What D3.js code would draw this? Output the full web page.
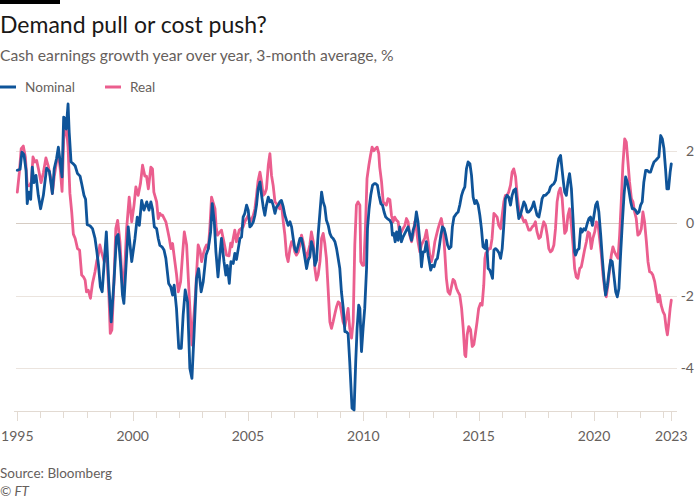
<!DOCTYPE html>
<html><head><meta charset="utf-8">
<script src="https://cdn.jsdelivr.net/npm/d3@7"></script>
<style>
html,body{margin:0;padding:0;background:#fff;}
svg{display:block;font-family:Lato,"Noto Sans",sans-serif;}
</style></head>
<body>
<svg id="chart" width="700" height="500"></svg>
<script>
const title = "Demand pull or cost push?";
const subtitle = "Cash earnings growth year over year, 3-month average, %";
const seriesNames = ["Nominal", "Real"];
const seriesColors = ["#0f5499", "#eb5e8e"];
const yTicks = [2, 0, -2, -4];
const xLabelYears = [1995, 2000, 2005, 2010, 2015, 2020];
const endLabel = "2023";
const source = "Source: Bloomberg";

const nominal = [[1995.00,1.46],[1995.12,1.49],[1995.20,1.96],[1995.29,1.89],[1995.38,1.46],[1995.43,0.54],[1995.50,0.86],[1995.58,0.66],[1995.65,1.55],[1995.72,1.12],[1995.81,1.32],[1995.91,0.77],[1996.01,0.40],[1996.13,0.77],[1996.27,1.52],[1996.39,1.43],[1996.52,0.82],[1996.60,1.50],[1996.70,1.78],[1996.78,2.10],[1996.85,1.73],[1996.94,1.28],[1997.01,2.93],[1997.08,2.88],[1997.12,2.60],[1997.20,3.29],[1997.25,2.51],[1997.33,1.69],[1997.43,1.64],[1997.51,1.58],[1997.61,1.37],[1997.72,1.30],[1997.80,1.06],[1997.89,0.77],[1997.96,0.66],[1998.03,-0.04],[1998.15,-0.07],[1998.26,-0.15],[1998.37,-0.42],[1998.45,-0.79],[1998.52,-1.16],[1998.60,-1.75],[1998.68,-1.89],[1998.77,-1.06],[1998.86,-0.24],[1998.96,-1.61],[1999.07,-2.72],[1999.19,-1.61],[1999.30,-0.38],[1999.37,-0.31],[1999.47,-1.06],[1999.56,-1.98],[1999.62,-2.21],[1999.81,-0.10],[1999.96,-1.06],[2000.10,-0.42],[2000.20,0.17],[2000.29,-0.06],[2000.39,0.63],[2000.49,0.36],[2000.61,0.59],[2000.71,0.36],[2000.79,0.59],[2000.86,0.40],[2000.94,-0.10],[2001.04,-0.15],[2001.11,-0.42],[2001.18,-0.61],[2001.27,-0.65],[2001.36,-0.74],[2001.44,-0.97],[2001.56,-1.66],[2001.65,-1.75],[2001.73,-1.98],[2001.80,-1.71],[2001.90,-2.35],[2002.00,-3.45],[2002.11,-3.45],[2002.19,-2.53],[2002.28,-1.84],[2002.38,-2.17],[2002.48,-4.00],[2002.57,-4.28],[2002.66,-3.08],[2002.77,-1.52],[2002.86,-1.25],[2002.97,-1.89],[2003.06,-1.61],[2003.18,-0.88],[2003.28,-0.70],[2003.38,-0.24],[2003.45,0.54],[2003.54,0.04],[2003.61,-0.79],[2003.70,-1.48],[2003.78,-0.88],[2003.85,-0.42],[2003.96,-1.06],[2004.04,-1.43],[2004.10,-1.16],[2004.19,-1.66],[2004.26,-1.06],[2004.36,-1.11],[2004.43,-0.83],[2004.50,-1.00],[2004.58,-0.70],[2004.65,-0.42],[2004.72,-0.38],[2004.79,0.17],[2004.86,0.27],[2004.94,0.50],[2005.01,0.36],[2005.08,-0.10],[2005.15,-0.06],[2005.23,0.04],[2005.30,0.22],[2005.37,0.50],[2005.44,0.95],[2005.52,1.14],[2005.59,0.77],[2005.66,0.45],[2005.73,0.22],[2005.80,0.50],[2005.88,0.72],[2005.95,0.59],[2006.02,0.63],[2006.09,0.50],[2006.17,0.27],[2006.24,0.45],[2006.31,0.50],[2006.38,0.59],[2006.45,0.63],[2006.53,0.45],[2006.60,0.22],[2006.67,0.08],[2006.74,-0.06],[2006.82,0.04],[2006.89,-0.10],[2006.96,-0.42],[2007.03,-0.70],[2007.10,-0.79],[2007.18,-0.60],[2007.25,-0.42],[2007.32,-0.42],[2007.39,-0.65],[2007.47,-0.97],[2007.54,-1.25],[2007.61,-1.02],[2007.68,-0.93],[2007.75,-0.51],[2007.83,-0.70],[2007.90,-1.16],[2007.97,-1.02],[2008.04,-0.33],[2008.12,0.31],[2008.19,0.86],[2008.26,0.59],[2008.33,0.45],[2008.40,0.08],[2008.48,-0.06],[2008.55,-0.28],[2008.62,-0.38],[2008.69,-0.42],[2008.77,-0.51],[2008.84,-0.70],[2008.91,-0.97],[2008.98,-1.25],[2009.05,-1.89],[2009.13,-2.35],[2009.20,-2.99],[2009.27,-3.00],[2009.34,-3.05],[2009.41,-3.82],[2009.51,-5.10],[2009.60,-5.15],[2009.67,-3.82],[2009.73,-2.90],[2009.80,-2.26],[2009.85,-2.35],[2009.92,-3.54],[2009.99,-2.90],[2010.06,-2.35],[2010.14,-1.25],[2010.18,-0.15],[2010.25,0.40],[2010.32,0.77],[2010.40,1.05],[2010.47,1.09],[2010.54,1.09],[2010.61,1.05],[2010.68,0.77],[2010.76,0.54],[2010.83,0.50],[2010.90,0.31],[2010.97,0.17],[2011.04,0.13],[2011.15,0.08],[2011.22,-0.01],[2011.26,-0.33],[2011.32,-0.28],[2011.38,-0.51],[2011.44,-0.24],[2011.51,-0.47],[2011.58,-0.10],[2011.65,-0.51],[2011.72,-0.38],[2011.80,-0.28],[2011.87,-0.19],[2011.94,-0.10],[2012.01,-0.28],[2012.09,-0.47],[2012.16,-0.19],[2012.23,-0.06],[2012.30,0.31],[2012.37,0.04],[2012.45,-0.51],[2012.52,-1.20],[2012.59,-0.79],[2012.66,-0.79],[2012.73,-0.51],[2012.81,-0.88],[2012.86,-1.06],[2012.92,-1.29],[2012.99,-1.16],[2013.07,-1.20],[2013.14,-1.02],[2013.21,-0.97],[2013.28,-0.70],[2013.36,-0.33],[2013.43,-0.10],[2013.50,-0.15],[2013.57,-0.33],[2013.65,-0.60],[2013.72,-0.70],[2013.80,-0.65],[2013.86,-0.10],[2013.93,0.17],[2014.04,0.27],[2014.11,0.31],[2014.18,0.50],[2014.26,0.77],[2014.33,0.91],[2014.40,1.00],[2014.47,1.50],[2014.54,1.69],[2014.62,1.64],[2014.69,1.32],[2014.76,0.72],[2014.83,0.54],[2014.90,0.63],[2014.98,0.50],[2015.05,0.22],[2015.12,-0.15],[2015.19,-0.65],[2015.27,-0.70],[2015.34,-0.47],[2015.41,-1.25],[2015.48,-1.29],[2015.56,-1.43],[2015.60,-1.52],[2015.66,-0.74],[2015.73,-0.70],[2015.80,-0.74],[2015.89,-0.83],[2015.95,-0.97],[2016.02,-0.70],[2016.09,-0.06],[2016.16,0.68],[2016.23,0.77],[2016.30,0.72],[2016.38,0.50],[2016.45,0.77],[2016.52,0.91],[2016.60,0.95],[2016.67,0.50],[2016.74,0.13],[2016.81,0.22],[2016.88,0.40],[2016.96,0.59],[2017.03,0.50],[2017.10,0.31],[2017.17,0.31],[2017.24,0.36],[2017.32,0.45],[2017.39,0.59],[2017.46,0.40],[2017.53,0.22],[2017.61,0.17],[2017.68,0.40],[2017.75,0.68],[2017.82,0.77],[2017.90,0.77],[2017.97,0.82],[2018.04,0.86],[2018.11,1.00],[2018.18,1.05],[2018.26,1.09],[2018.33,1.18],[2018.40,1.50],[2018.47,1.78],[2018.55,1.87],[2018.62,1.45],[2018.68,1.10],[2018.73,0.86],[2018.80,0.77],[2018.87,1.14],[2018.94,1.37],[2019.02,0.95],[2019.09,0.13],[2019.16,-0.79],[2019.20,-0.88],[2019.28,-0.74],[2019.35,-0.70],[2019.42,-0.15],[2019.49,-0.24],[2019.56,-0.15],[2019.63,-0.19],[2019.71,0.00],[2019.78,0.13],[2019.85,0.17],[2019.93,-0.06],[2020.00,0.22],[2020.07,0.50],[2020.14,0.59],[2020.21,0.31],[2020.29,-0.33],[2020.36,-0.97],[2020.43,-1.52],[2020.50,-1.98],[2020.58,-1.71],[2020.65,-1.34],[2020.72,-1.02],[2020.79,-1.06],[2020.86,-1.43],[2020.94,-1.89],[2021.01,-2.03],[2021.08,-1.80],[2021.15,-0.88],[2021.23,0.04],[2021.30,0.77],[2021.37,1.28],[2021.44,1.14],[2021.51,0.91],[2021.59,0.59],[2021.66,0.40],[2021.73,0.40],[2021.80,0.36],[2021.88,0.27],[2021.95,0.31],[2022.02,0.50],[2022.09,0.59],[2022.16,1.14],[2022.24,1.46],[2022.31,1.46],[2022.38,1.41],[2022.45,1.41],[2022.52,1.55],[2022.60,1.69],[2022.67,1.73],[2022.74,1.78],[2022.81,1.83],[2022.89,2.42],[2022.96,2.33],[2023.03,2.06],[2023.10,1.50],[2023.16,0.95],[2023.23,0.95],[2023.30,1.41],[2023.35,1.64]];

const real = [[1995.00,0.86],[1995.09,1.41],[1995.17,2.06],[1995.26,2.13],[1995.35,1.83],[1995.43,1.05],[1995.52,1.03],[1995.61,1.14],[1995.68,1.83],[1995.77,1.69],[1995.84,1.73],[1995.92,1.49],[1996.03,1.12],[1996.13,1.39],[1996.24,1.80],[1996.34,1.58],[1996.44,1.28],[1996.52,0.82],[1996.60,1.28],[1996.70,1.69],[1996.79,1.87],[1996.86,1.50],[1996.94,0.88],[1997.01,2.30],[1997.08,2.65],[1997.14,2.55],[1997.20,2.10],[1997.28,0.83],[1997.36,0.30],[1997.43,-0.30],[1997.51,-0.42],[1997.61,-0.70],[1997.70,-0.74],[1997.79,-1.43],[1997.87,-1.48],[1997.94,-1.57],[1998.00,-1.89],[1998.08,-1.85],[1998.17,-2.07],[1998.26,-1.66],[1998.37,-1.34],[1998.44,-1.06],[1998.51,-0.88],[1998.58,-0.60],[1998.65,-0.79],[1998.77,-1.06],[1998.87,-0.70],[1998.97,-1.98],[1999.03,-3.04],[1999.10,-2.94],[1999.19,-1.61],[1999.27,-0.15],[1999.35,0.08],[1999.45,-0.51],[1999.53,-1.43],[1999.58,-1.90],[1999.66,-1.20],[1999.74,-0.15],[1999.85,0.72],[1999.96,0.04],[2000.06,0.50],[2000.14,1.00],[2000.24,0.77],[2000.34,1.10],[2000.43,1.60],[2000.53,1.30],[2000.60,1.30],[2000.68,0.95],[2000.79,1.55],[2000.86,1.50],[2000.92,0.86],[2001.04,0.59],[2001.11,0.13],[2001.18,0.27],[2001.24,0.22],[2001.30,0.22],[2001.37,0.13],[2001.44,0.04],[2001.52,-0.20],[2001.59,-0.42],[2001.66,-0.70],[2001.73,-0.56],[2001.83,-1.06],[2001.90,-1.40],[2001.98,-1.89],[2002.08,-1.61],[2002.16,-0.90],[2002.24,-0.24],[2002.34,-0.60],[2002.45,-1.98],[2002.57,-3.36],[2002.65,-2.60],[2002.72,-1.98],[2002.84,-0.60],[2002.92,-0.75],[2002.99,-1.06],[2003.06,-0.85],[2003.13,-0.70],[2003.20,-0.60],[2003.28,-0.70],[2003.35,-0.10],[2003.42,0.72],[2003.50,0.55],[2003.57,0.40],[2003.62,-0.10],[2003.68,-0.33],[2003.77,-0.25],[2003.85,-0.19],[2003.95,-0.50],[2004.07,-0.88],[2004.18,-0.90],[2004.25,-0.55],[2004.30,-0.65],[2004.36,-0.42],[2004.43,-0.19],[2004.50,-0.51],[2004.62,-0.19],[2004.70,-0.15],[2004.79,-0.10],[2004.86,0.04],[2004.94,0.13],[2005.01,0.22],[2005.10,0.04],[2005.23,0.22],[2005.30,0.40],[2005.37,0.77],[2005.44,1.18],[2005.52,1.41],[2005.59,1.14],[2005.66,0.77],[2005.73,0.82],[2005.80,0.95],[2005.88,1.60],[2005.95,1.92],[2006.02,1.32],[2006.09,1.05],[2006.17,0.59],[2006.24,0.54],[2006.31,0.45],[2006.38,0.40],[2006.45,0.54],[2006.53,0.04],[2006.60,-0.33],[2006.67,-0.88],[2006.74,-1.06],[2006.82,-0.70],[2006.89,-0.51],[2006.96,-0.56],[2007.03,-0.79],[2007.10,-0.88],[2007.18,-0.79],[2007.25,-0.60],[2007.32,-0.33],[2007.39,-0.51],[2007.47,-0.79],[2007.54,-0.97],[2007.61,-0.79],[2007.68,-0.60],[2007.75,-0.24],[2007.83,-0.51],[2007.90,-1.25],[2007.97,-1.57],[2008.04,-1.43],[2008.12,-1.06],[2008.19,-0.42],[2008.26,-0.28],[2008.33,-0.56],[2008.40,-0.97],[2008.48,-1.89],[2008.55,-2.72],[2008.62,-2.90],[2008.69,-2.72],[2008.77,-2.49],[2008.84,-2.30],[2008.91,-2.17],[2008.98,-2.21],[2009.05,-2.44],[2009.12,-2.72],[2009.20,-2.85],[2009.27,-2.60],[2009.34,-2.35],[2009.41,-2.90],[2009.49,-3.17],[2009.56,-2.72],[2009.63,-0.60],[2009.70,0.50],[2009.77,0.59],[2009.85,0.50],[2009.89,-1.06],[2009.96,-1.16],[2010.02,-1.16],[2010.09,-0.15],[2010.16,1.23],[2010.24,1.60],[2010.31,1.87],[2010.38,2.10],[2010.45,2.00],[2010.53,2.06],[2010.60,2.10],[2010.67,1.92],[2010.71,1.55],[2010.79,1.14],[2010.86,0.59],[2010.93,0.54],[2011.00,0.50],[2011.07,0.68],[2011.15,0.65],[2011.22,0.22],[2011.29,0.04],[2011.36,0.17],[2011.44,0.08],[2011.51,0.04],[2011.58,-0.33],[2011.65,-0.24],[2011.72,-0.15],[2011.80,-0.06],[2011.87,0.13],[2011.94,0.04],[2012.01,-0.33],[2012.09,-0.51],[2012.16,-0.33],[2012.23,0.04],[2012.30,-0.15],[2012.37,-0.51],[2012.45,-0.79],[2012.52,-0.60],[2012.59,-0.51],[2012.66,-0.42],[2012.74,-0.19],[2012.81,-0.51],[2012.88,-0.88],[2012.95,-1.06],[2013.02,-0.88],[2013.10,-0.51],[2013.17,-0.33],[2013.24,-0.15],[2013.31,0.00],[2013.38,0.13],[2013.46,-0.15],[2013.53,-0.79],[2013.60,-1.52],[2013.67,-1.89],[2013.75,-1.96],[2013.82,-1.75],[2013.89,-1.55],[2013.96,-1.60],[2014.04,-1.80],[2014.11,-1.90],[2014.18,-1.98],[2014.26,-2.35],[2014.33,-2.90],[2014.40,-3.63],[2014.44,-3.68],[2014.50,-3.08],[2014.57,-2.85],[2014.65,-2.94],[2014.72,-3.40],[2014.79,-3.35],[2014.86,-3.04],[2014.93,-2.72],[2015.00,-2.35],[2015.08,-2.21],[2015.15,-2.26],[2015.22,-1.71],[2015.27,-0.97],[2015.31,-0.83],[2015.37,-0.79],[2015.44,-0.70],[2015.51,-0.70],[2015.58,-0.42],[2015.66,0.27],[2015.73,0.22],[2015.80,0.17],[2015.87,-0.06],[2015.95,-0.15],[2016.02,0.22],[2016.09,0.59],[2016.16,0.77],[2016.23,0.77],[2016.30,0.86],[2016.38,1.05],[2016.45,1.41],[2016.52,1.50],[2016.60,1.28],[2016.67,0.77],[2016.74,0.40],[2016.81,0.27],[2016.88,0.17],[2016.96,0.04],[2017.03,0.08],[2017.10,-0.06],[2017.17,-0.19],[2017.24,-0.19],[2017.32,-0.10],[2017.39,-0.06],[2017.46,0.04],[2017.53,-0.24],[2017.61,-0.42],[2017.68,-0.38],[2017.75,-0.15],[2017.82,0.04],[2017.90,-0.06],[2017.97,-0.33],[2018.04,-0.70],[2018.11,-0.79],[2018.18,-0.75],[2018.26,-0.60],[2018.33,-0.15],[2018.40,0.59],[2018.47,0.86],[2018.54,0.97],[2018.62,0.68],[2018.67,0.22],[2018.73,-0.28],[2018.80,-0.20],[2018.87,0.22],[2018.94,0.40],[2019.02,-0.06],[2019.09,-0.60],[2019.16,-1.25],[2019.23,-1.48],[2019.30,-1.52],[2019.38,-1.25],[2019.45,-1.20],[2019.52,-0.97],[2019.59,-0.74],[2019.67,-0.51],[2019.74,-0.24],[2019.81,-0.28],[2019.88,-0.70],[2019.95,-0.42],[2020.03,-0.24],[2020.10,0.04],[2020.17,-0.02],[2020.24,-0.42],[2020.32,-0.88],[2020.39,-1.43],[2020.46,-1.80],[2020.53,-2.03],[2020.60,-1.71],[2020.68,-1.25],[2020.75,-0.88],[2020.82,-0.65],[2020.89,-0.79],[2020.96,-0.88],[2021.04,-0.97],[2021.11,-0.33],[2021.18,0.59],[2021.25,1.60],[2021.33,2.33],[2021.40,2.24],[2021.47,1.69],[2021.54,1.14],[2021.62,0.68],[2021.69,0.59],[2021.76,0.31],[2021.83,0.13],[2021.90,-0.33],[2021.98,-0.28],[2022.05,-0.15],[2022.12,0.31],[2022.19,0.04],[2022.27,-0.51],[2022.34,-1.06],[2022.41,-1.34],[2022.48,-1.36],[2022.55,-1.43],[2022.63,-1.61],[2022.70,-1.89],[2022.77,-2.17],[2022.84,-1.98],[2022.91,-2.26],[2022.99,-2.44],[2023.06,-2.53],[2023.13,-2.90],[2023.18,-3.08],[2023.23,-2.81],[2023.30,-2.35],[2023.35,-2.12]];

const svg = d3.select("#chart");
const textGrey = "#66605c";
const xStart = 1995, xEnd = 2023.35;
const plotL = 17.3, plotR = 671.3, gridR = 677;
const x = d3.scaleLinear().domain([xStart, xEnd]).range([plotL, plotR]);
const y = d3.scaleLinear().domain([-5.18, 3.4]).range([411, 100]);

// top bar
svg.append("rect").attr("x", 0).attr("y", 0).attr("width", 60).attr("height", 4).attr("fill", "#000");
svg.append("text").attr("x", 0).attr("y", 33).attr("font-size", 23).attr("fill", "#1a1817").text(title);
svg.append("text").attr("x", 0).attr("y", 61).attr("font-size", 15.7).attr("fill", textGrey).text(subtitle);

// legend
const legendX = [0, 105];
seriesNames.forEach((name, i) => {
  const g = svg.append("g").attr("transform", `translate(${legendX[i]},0)`);
  g.append("line").attr("x1", 0).attr("x2", 16).attr("y1", 87).attr("y2", 87)
    .attr("stroke", seriesColors[i]).attr("stroke-width", 3);
  g.append("text").attr("x", 25).attr("y", 92).attr("font-size", 13.6).attr("fill", textGrey).text(name);
});

// gridlines
svg.append("g").selectAll("line").data(yTicks).join("line")
  .attr("x1", 16).attr("x2", gridR)
  .attr("y1", d => Math.round(y(d)) + 0.5).attr("y2", d => Math.round(y(d)) + 0.5)
  .attr("stroke", d => d === 0 ? "#d6ccc3" : "#ebe4de").attr("stroke-width", 1);

svg.append("g").selectAll("text").data(yTicks).join("text")
  .attr("x", 694).attr("y", d => y(d) + 5).attr("text-anchor", "end")
  .attr("font-size", 14).attr("fill", textGrey)
  .text(d => d < 0 ? "-" + Math.abs(d) : String(d));

// x axis
const yearTicks = d3.range(1995, 2024);
const allTicks = yearTicks.concat([xEnd]);
const xAxisG = svg.append("g").attr("transform", "translate(0,411)");
xAxisG.append("line").attr("x1", 14).attr("x2", gridR).attr("y1", 0.5).attr("y2", 0.5)
  .attr("stroke", "#e2dad2").attr("stroke-width", 1);
xAxisG.selectAll("line.tick").data(allTicks).join("line").attr("class", "tick")
  .attr("x1", d => Math.round(x(d)) + 0.5).attr("x2", d => Math.round(x(d)) + 0.5)
  .attr("y1", 0).attr("y2", d => (xLabelYears.includes(d) || d === xEnd) ? 10 : 7)
  .attr("stroke", "#e2dad2").attr("stroke-width", 1);
const labelData = xLabelYears.map(d => ({v: d, t: String(d)})).concat([{v: xEnd, t: endLabel}]);
xAxisG.selectAll("text").data(labelData).join("text")
  .attr("x", d => x(d.v)).attr("y", 30).attr("text-anchor", "middle")
  .attr("font-size", 14).attr("fill", textGrey).text(d => d.t);

// lines
const line = d3.line().x(d => x(d[0])).y(d => y(d[1])).curve(d3.curveLinear);
[real, nominal].forEach((s, i) => {
  svg.append("path").datum(s).attr("d", line).attr("fill", "none")
    .attr("stroke", i === 0 ? seriesColors[1] : seriesColors[0])
    .attr("stroke-width", 2.8).attr("stroke-linejoin", "round").attr("stroke-linecap", "round");
});

// footer
svg.append("text").attr("x", 0).attr("y", 478).attr("font-size", 13.5).attr("fill", textGrey).text(source);
svg.append("text").attr("x", 0).attr("y", 496).attr("font-size", 13.5).attr("font-style", "italic").attr("fill", textGrey).text("© FT");
</script>
</body></html>
